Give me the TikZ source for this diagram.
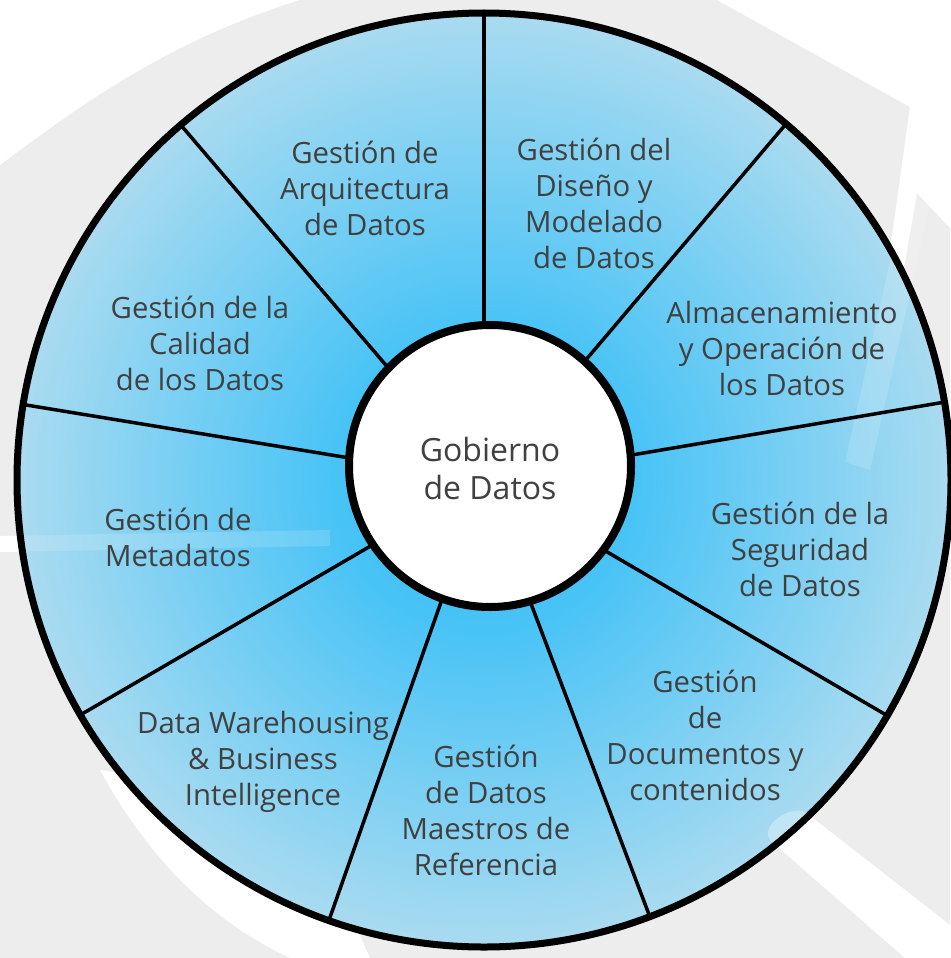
\documentclass[tikz,border=0pt]{standalone}
\usepackage{fontspec}
\setmainfont{Open Sans}
\usepackage{tikz}
\usepackage{color}
\definecolor{wheeltext}{RGB}{64,64,64}
\definecolor{markgrey}{RGB}{237,237,237}
\definecolor{glowin}{RGB}{52,187,245}
\definecolor{glowmid}{RGB}{72,195,246}
\definecolor{glowout}{RGB}{170,219,240}
\pgfdeclareradialshading{wheelglow}{\pgfpoint{0bp}{0bp}}{color(0bp)=(glowin); color(8bp)=(glowmid); color(25bp)=(glowout); color(50bp)=(glowout)}

\begin{document}
\begin{tikzpicture}[x=1pt,y=1pt,yscale=-1,xscale=1,
  sector label/.style={align=center,text=wheeltext,font=\fontsize{29.3}{36}\selectfont,inner sep=0.75pt}]
\useasboundingbox (0,0) rectangle (950,958);

%Shape: Background
\fill [markgrey] (0,0) rectangle (950,958);
%Shape: Top-left corner
\fill [white] (0,0) -- (0,165) .. controls (80,105) and (170,40) .. (300,0) -- cycle ;
%Shape: Top-right gap
\fill [white] (717,0) -- (950,0) -- (950,228) -- (917,193) -- (895,320) -- (883,300) -- (910,107) -- cycle ;
%Shape: Bottom-right band
\fill [white] (770,840) -- (805,812) -- (950,925) -- (950,958) -- (905,958) -- cycle ;
%Shape: Bottom-left crescent
\fill [white] (100,770) .. controls (150,860) and (210,920) .. (290,958) -- (370,958) -- (300,800) -- cycle ;
%Shape: Left strip
\fill [white] (0,536) -- (120,534) -- (120,550) -- (0,552) -- cycle ;

%Shape: Circle
\path [shading=wheelglow] (484,480) circle [radius=467] ;
%Shape: Light strips over the wheel
\fill [white, fill opacity=0.15] (0,536) -- (330,530) -- (330,546) -- (0,552) -- cycle ;
\fill [white, fill opacity=0.15] (905,195) -- (930,205) -- (870,470) -- (845,462) -- cycle ;
\fill [white, fill opacity=0.3] (770,840) .. controls (760,825) and (790,805) .. (805,812) -- (880,870) -- (850,900) -- cycle ;

%Straight Lines
\draw [line width=3.5]    (484,480) -- (484,13) ;
%Straight Lines
\draw [line width=3.5]    (484,480) -- (786.1,123.8) ;
%Straight Lines
\draw [line width=3.5]    (484,480) -- (944.5,402.1) ;
%Straight Lines
\draw [line width=3.5]    (484,480) -- (887.2,715.6) ;
%Straight Lines
\draw [line width=3.5]    (484,480) -- (649.8,916.6) ;
%Straight Lines
\draw [line width=3.5]    (484,480) -- (328.9,920.5) ;
%Straight Lines
\draw [line width=3.5]    (484,480) -- (80.4,714.9) ;
%Straight Lines
\draw [line width=3.5]    (484,480) -- (23.1,404.5) ;
%Straight Lines
\draw [line width=3.5]    (484,480) -- (180.7,124.9) ;

%Shape: Circle
\draw [line width=7] (484,480) circle [radius=467] ;
%Shape: Circle
\draw [line width=8, fill=white] (490,466) circle [radius=141] ;

% Text Node
\draw (490,468) node (gob) [sector label, font=\fontsize{32}{38}\selectfont] {Gobierno\\de Datos};
% Text Node
\draw (365,188) node (arq) [sector label] {Gestión de\\Arquitectura\\de Datos};
% Text Node
\draw (594,203.5) node (dis) [sector label] {Gestión del\\Diseño y\\Modelado\\de Datos};
% Text Node
\draw (782,349) node (alm) [sector label] {Almacenamiento\\y Operación de\\los Datos};
% Text Node
\draw (800,549) node (seg) [sector label] {Gestión de la\\Seguridad\\de Datos};
% Text Node
\draw (705,735.5) node (doc) [sector label] {Gestión\\de\\Documentos y\\contenidos};
% Text Node
\draw (486,810) node (mae) [sector label] {Gestión\\de Datos\\Maestros de\\Referencia};
% Text Node
\draw (263,762) node (dwh) [sector label] {Data Warehousing\\\& Business\\Intelligence};
% Text Node
\draw (178,537.5) node (met) [sector label] {Gestión de\\Metadatos};
% Text Node
\draw (200,343) node (cal) [sector label] {Gestión de la\\Calidad\\de los Datos};

\end{tikzpicture}
\end{document}
